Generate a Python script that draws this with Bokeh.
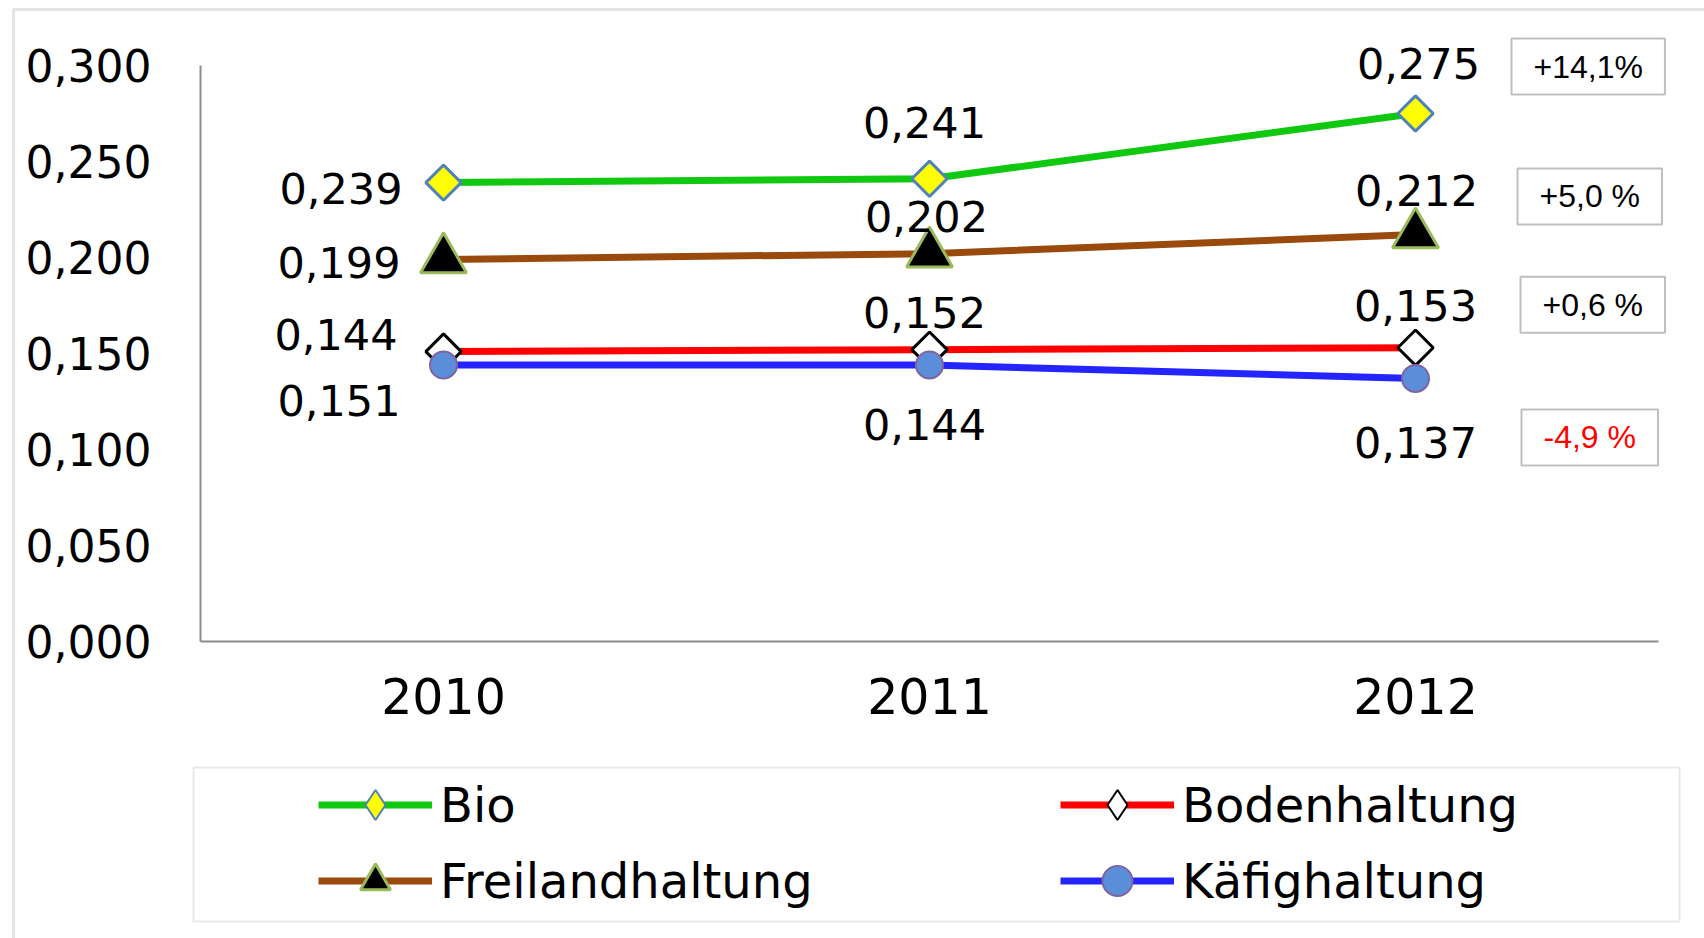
import math
from bokeh.plotting import figure
from bokeh.models import (ColumnDataSource, Range1d, FixedTicker, CustomJSTickFormatter,
                          Legend, LegendItem, Label, BoxAnnotation)
from bokeh.core.properties import value
from bokeh.embed import file_html
from bokeh.resources import INLINE

# ---------------- data ----------------
years = [2010, 2011, 2012]
bio = [0.239, 0.241, 0.275]
freiland = [0.199, 0.202, 0.212]
boden = [0.151, 0.152, 0.153]
kaefig = [0.144, 0.144, 0.137]
# data labels as printed in the original chart
bio_labels = ["0,239", "0,241", "0,275"]
freiland_labels = ["0,199", "0,202", "0,212"]
boden_labels = ["0,144", "0,152", "0,153"]
kaefig_labels = ["0,151", "0,144", "0,137"]
series_names = ["Bio", "Freilandhaltung", "Bodenhaltung", "Käfighaltung"]
changes = ["+14,1%", "+5,0 %", "+0,6 %", "-4,9 %"]
y_ticks = [0.0, 0.05, 0.10, 0.15, 0.20, 0.25, 0.30]

# ---------------- layout (pixels) ----------------
W, H = 1704, 938
PL, PR, PT, PB = 200, 1658, 65, 641       # plot area edges
X0, X1 = years[0] - 0.5, years[-1] + 0.5  # category band edges
Y0, Y1 = 0.0, 0.3
sx = (PR - PL) / (X1 - X0)
sy = (PB - PT) / (Y1 - Y0)

# ---------------- styling ----------------
FONT = "DejaVu Sans"
styles = {
    "Bio": dict(color="#11c811", marker="square", angle=math.pi / 4, size=25,
                fill="#ffff00", edge="#4f81bd", ew=3, legend_marker="diamond"),
    "Freilandhaltung": dict(color="#9a4a0c", marker="triangle", angle=0, size=46,
                            fill="#000000", edge="#9bbb59", ew=3, legend_marker=None),
    "Bodenhaltung": dict(color="#ff0000", marker="square", angle=math.pi / 4, size=25,
                         fill="#ffffff", edge="#000000", ew=3, legend_marker="diamond"),
    "Käfighaltung": dict(color="#2424ff", marker="circle", angle=0, size=27,
                         fill="#5b8ed8", edge="#8064a2", ew=2, legend_marker=None),
}
label_dx = {
    "Bio": [-41, -5, 3],
    "Freilandhaltung": [-43, -3, 1],
    "Bodenhaltung": [-46, -5, 0],
    "Käfighaltung": [-43, -5, 0],
}
label_dy = {
    "Bio": [6, -56, -50],
    "Freilandhaltung": [3, -37, -44],
    "Bodenhaltung": [-17, -37, -42],
    "Käfighaltung": [35, 59, 64],
}
label_align = ["right", "center", "center"]
box_dx = [96, 102, 105, 106]
box_dy = [47, 38, 43, -59]
box_colors = ["black", "black", "black", "#ff0000"]

values = {"Bio": bio, "Freilandhaltung": freiland, "Bodenhaltung": boden, "Käfighaltung": kaefig}
labels = {"Bio": bio_labels, "Freilandhaltung": freiland_labels,
          "Bodenhaltung": boden_labels, "Käfighaltung": kaefig_labels}

p = figure(x_range=Range1d(X0 - PL / sx, X1 + (W - PR) / sx),
           y_range=Range1d(Y0 - (H - PB) / sy, Y1 + PT / sy),
           width=W, height=H, output_backend="svg", toolbar_location=None,
           min_border=0)
p.outline_line_color = None
p.grid.visible = False
p.background_fill_color = "white"
p.border_fill_color = "white"

# axes, pinned to the plot area
p.yaxis.fixed_location = X0
p.yaxis.bounds = (Y0, Y1)
p.yaxis.ticker = FixedTicker(ticks=y_ticks)
p.yaxis.formatter = CustomJSTickFormatter(code="return tick.toFixed(3).replace('.', ',');")
p.xaxis.fixed_location = Y0
p.xaxis.bounds = (X0, X1)
p.xaxis.ticker = FixedTicker(ticks=years)
p.xaxis.formatter = CustomJSTickFormatter(code="return tick.toFixed(0);")
for ax in (p.xaxis[0], p.yaxis[0]):
    ax.axis_line_color = "#8c8c8c"
    ax.axis_line_width = 2
    ax.major_tick_line_color = None
    ax.minor_tick_line_color = None
    ax.major_tick_out = 0
    ax.major_tick_in = 0
    ax.major_label_text_font = FONT
    ax.major_label_text_color = "black"
p.yaxis.major_label_text_font_size = "44px"
p.yaxis.major_label_standoff = 49
p.xaxis.major_label_text_font_size = "49px"
p.xaxis.major_label_standoff = 36

items = {}
for name in series_names:
    st = styles[name]
    vals = values[name]
    lr = p.line(years, vals, line_color=st["color"], line_width=7)
    mr = None
    if st["legend_marker"]:
        # legend swatch for the rotated-square markers (legends ignore marker angle);
        # drawn small underneath the plotted marker
        mr = p.scatter(years, vals, marker=st["legend_marker"], size=18,
                       fill_color=st["fill"], line_color=st["edge"], line_width=2)
    sr = p.scatter(years, vals, marker=st["marker"], size=st["size"], angle=st["angle"],
                   fill_color=st["fill"], line_color=st["edge"], line_width=st["ew"])
    items[name] = [lr, mr if mr is not None else sr]
    src = ColumnDataSource(dict(x=years, y=vals, t=labels[name], dx=label_dx[name],
                                dy=label_dy[name], al=label_align))
    p.text(x="x", y="y", text="t", x_offset="dx", y_offset="dy", text_align="al",
           text_baseline="middle", text_font=value(FONT), text_font_size="43px",
           text_color="black", source=src)

# change boxes next to the 2012 points
for name, txt, dx, dy, col in zip(series_names, changes, box_dx, box_dy, box_colors):
    lab = Label(x=years[-1], y=values[name][-1], x_offset=dx, y_offset=dy, text=txt,
                text_align="left", text_baseline="middle", text_font="Liberation Sans",
                text_font_size="32px", text_color=col, border_line_color="#bfbfbf",
                border_line_width=2, background_fill_color="white", padding=(22, 10))
    p.add_layout(lab)

legend = Legend(items=[LegendItem(label=n, renderers=items[n]) for n in series_names],
                location=(318, 20), ncols=2, orientation="vertical",
                glyph_width=114, glyph_height=75, label_height=75, label_width=619,
                label_standoff=8, spacing=1, padding=0, margin=0,
                border_line_alpha=0, background_fill_alpha=0,
                label_text_font=FONT, label_text_font_size="48px",
                label_text_color="black", label_text_baseline="middle")
p.add_layout(legend)

# legend frame and outer chart frame (canvas units)
p.add_layout(BoxAnnotation(left=193, right=1679, top=767, bottom=921,
                           left_units="canvas", right_units="canvas",
                           top_units="canvas", bottom_units="canvas",
                           fill_alpha=0, line_color="#b3b3b3", line_width=2))
p.add_layout(BoxAnnotation(left=13, right=W + 20, top=9, bottom=H + 20,
                           left_units="canvas", right_units="canvas",
                           top_units="canvas", bottom_units="canvas",
                           fill_alpha=0, line_color="#a6a6a6", line_width=3))

open("out.html", "w").write(file_html(p, INLINE))
